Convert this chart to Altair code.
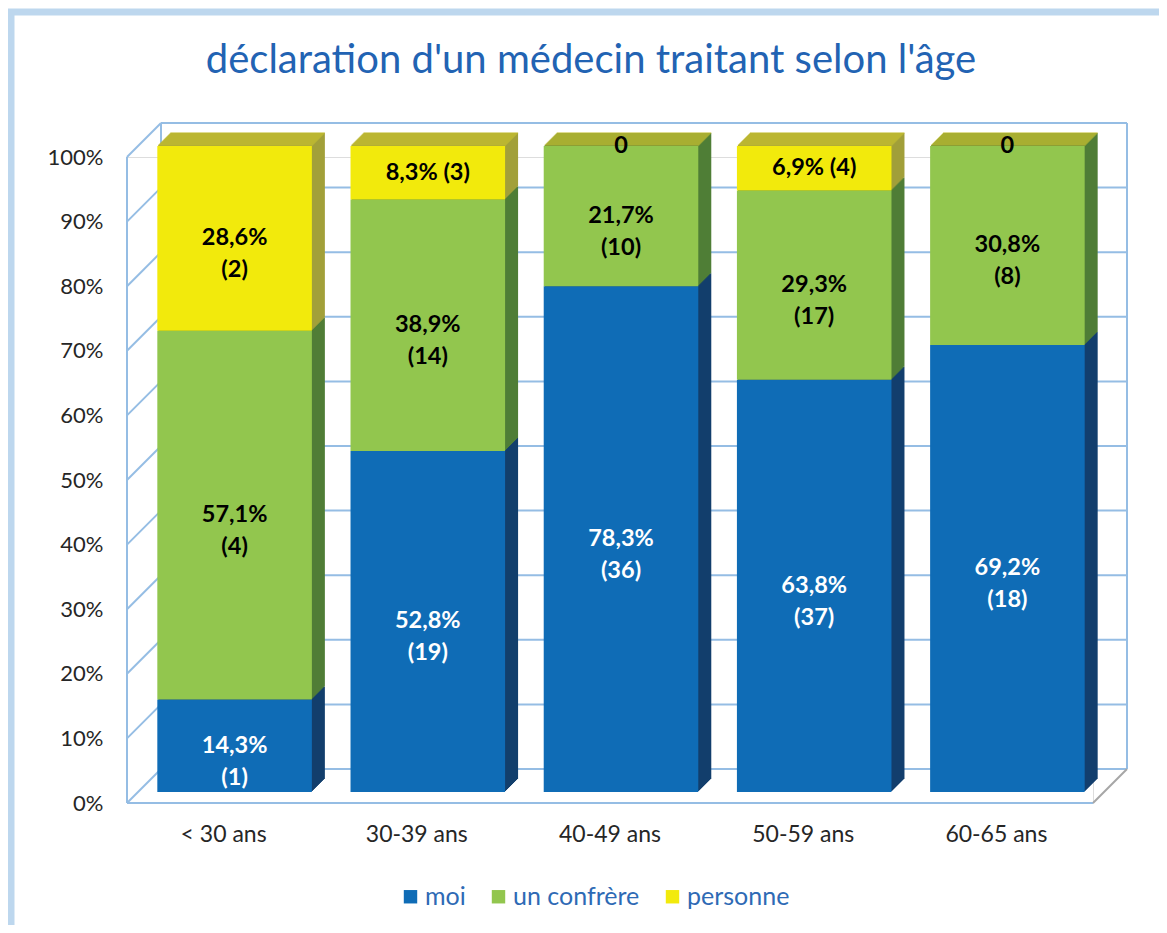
import altair as alt
import pandas as pd

# ---------------- data ----------------
categories = ["< 30 ans", "30-39 ans", "40-49 ans", "50-59 ans", "60-65 ans"]
series = ["moi", "un confrère", "personne"]
moi_pct = [14.3, 52.8, 78.3, 63.8, 69.2]
moi_n = [1, 19, 36, 37, 18]
confrere_pct = [57.1, 38.9, 21.7, 29.3, 30.8]
confrere_n = [4, 14, 10, 17, 8]
personne_pct = [28.6, 8.3, 0.0, 6.9, 0.0]
personne_n = [2, 3, 0, 4, 0]
y_ticks = [0, 10, 20, 30, 40, 50, 60, 70, 80, 90, 100]
title_text = "déclaration d'un médecin traitant selon l'âge"

# ---------------- styles ----------------
FONT = "Lato"
FRONT = ["#0F6CB6", "#92C64E", "#F2EA0C"]
SIDE = ["#133F6D", "#507E37", "#A2A03A"]
TOP = "#C2BE30"
GRID = "#95BDE4"
FRAME = "#BDD7EE"
W, H = 966, 646
D = 34      # wall depth
OFF = 11    # bar front offset
BD = 13     # bar depth
PI, PO = 0.2, 0.1
BW = W / (len(categories) - PI + 2 * PO) * (1 - PI)

rows = []
for i, cat in enumerate(categories):
    base = 0.0
    for s, pcts, ns in zip(series, [moi_pct, confrere_pct, personne_pct],
                           [moi_n, confrere_n, personne_n]):
        p, n = pcts[i], ns[i]
        if p == 0:
            label = ["0"]
        elif p < 10:
            label = [f"{p:.1f}% ({n})".replace(".", ",")]
        else:
            label = [f"{p:.1f}%".replace(".", ","), f"({n})"]
        rows.append(dict(cat=cat, series=s, y0=base, y1=base + p,
                         mid=base + p / 2, label=label))
        base += p
df = pd.DataFrame(rows)
df_top = df[df["series"] == "personne"]
ticks_df = pd.DataFrame({"v": y_ticks})
one = pd.DataFrame({"a": [0]})

xs = alt.Scale(domain=categories, paddingInner=PI, paddingOuter=PO)
ys = alt.Scale(domain=[0, 100], nice=False, zero=True)


def X(axis=None):
    return alt.X("cat:N", scale=xs, axis=axis, sort=categories)


def Y(field, axis=None):
    return alt.Y(field, type="quantitative", scale=ys, axis=axis)


def YD(v):
    return alt.Y(datum=v, type="quantitative", scale=ys, axis=None)


frame = alt.Chart(one).mark_rect(filled=False, stroke=FRAME, strokeWidth=7).encode(
    x=alt.value(-116), x2=alt.value(1100), y=alt.value(-145), y2=alt.value(900))

title = alt.Chart(one).mark_text(text=title_text, font=FONT, fontSize=40, color="#2263B3",
                                 align="center", baseline="alphabetic").encode(
    x=alt.value(464), y=alt.value(-84))

back_grid = alt.Chart(ticks_df).mark_rule(color=GRID, strokeWidth=2, yOffset=-D).encode(
    y=Y("v"), x=alt.value(D), x2=alt.value(W + D))
left_diag = alt.Chart(ticks_df).mark_rule(color=GRID, strokeWidth=2, y2Offset=-D).encode(
    y=Y("v"), y2=alt.Y2("v"), x=alt.value(0), x2=alt.value(D))
left_front = alt.Chart(one).mark_rule(color=GRID, strokeWidth=2).encode(
    x=alt.value(0), y=YD(100), y2=alt.Y2(datum=0))
back_left = alt.Chart(one).mark_rule(color=GRID, strokeWidth=2, yOffset=-D, y2Offset=-D).encode(
    x=alt.value(D), y=YD(100), y2=alt.Y2(datum=0))
back_right = alt.Chart(one).mark_rule(color=GRID, strokeWidth=2, yOffset=-D, y2Offset=-D).encode(
    x=alt.value(W + D), y=YD(100), y2=alt.Y2(datum=0))
floor_front = alt.Chart(one).mark_rule(color=GRID, strokeWidth=2).encode(
    x=alt.value(0), x2=alt.value(W), y=YD(0))
floor_right = alt.Chart(one).mark_rule(color="#A6A6A6", strokeWidth=2, y2Offset=-D).encode(
    x=alt.value(W), x2=alt.value(W + D), y=YD(0), y2=alt.Y2(datum=0))

layers = [frame, title, back_grid, left_diag, left_front, back_left, back_right,
          floor_front, floor_right]

for k in range(BD, 0, -1):
    layers.append(
        alt.Chart(df).mark_bar(xOffset=OFF + k, yOffset=-OFF - k, y2Offset=-OFF - k).encode(
            x=X(), y=Y("y1"), y2=alt.Y2("y0"),
            color=alt.Color("series:N", scale=alt.Scale(domain=series, range=SIDE), legend=None))
    )
for k in range(1, BD + 1):
    layers.append(
        alt.Chart(df_top).mark_tick(orient="horizontal", size=BW, thickness=1.6, color=TOP,
                                    xOffset=OFF + k, yOffset=-OFF - k).encode(
            x=X(), y=Y("y1"))
    )

front = alt.Chart(df).mark_bar(xOffset=OFF, yOffset=-OFF, y2Offset=-OFF).encode(
    x=X(alt.Axis(labelFontSize=23, labelFont=FONT, labelColor="#262626", domain=False,
                 ticks=False, labelPadding=20, title=None, labelAngle=0)),
    y=Y("y1", alt.Axis(values=y_ticks, labelExpr="datum.value + '%'", labelFontSize=22,
                       labelFont=FONT, labelColor="#262626", domain=False, ticks=False,
                       grid=False, labelPadding=24, title=None)),
    y2=alt.Y2("y0"),
    color=alt.Color("series:N", scale=alt.Scale(domain=series, range=FRONT),
                    legend=alt.Legend(orient="none", legendX=271, legendY=727,
                                      direction="horizontal", title=None,
                                      symbolType="square", symbolSize=180,
                                      symbolStrokeWidth=0, labelFontSize=25,
                                      labelFont=FONT, labelColor="#2E6AB5",
                                      columnPadding=20, labelOffset=2)),
)
layers.append(front)

labels = alt.Chart(df).mark_text(xOffset=OFF, yOffset=-OFF, fontWeight="bold", fontSize=23.5,
                                 font=FONT, lineHeight=32, baseline="middle").encode(
    x=X(), y=Y("mid"), text="label",
    color=alt.condition(alt.datum.series == "moi", alt.value("white"), alt.value("black")))
layers.append(labels)

chart = alt.layer(*layers).resolve_scale(color="independent").resolve_axis(
    x="independent", y="independent").properties(
    width=W, height=H,
    autosize=alt.AutoSizeParams(type="none"),
    padding={"left": 119, "top": 149, "right": 66, "bottom": 122},
).configure_view(stroke=None).configure(background="white")

chart.save("out.html", embed_options={"renderer": "svg", "actions": False})
